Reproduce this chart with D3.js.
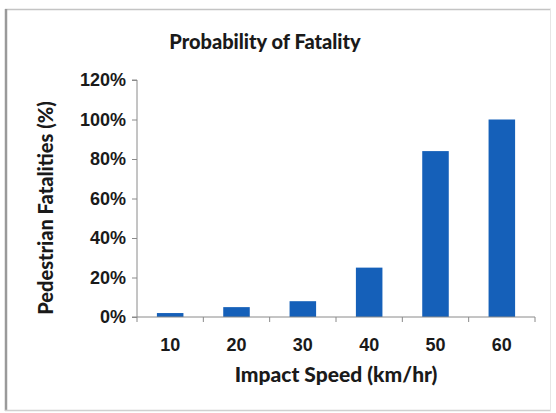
<!DOCTYPE html>
<html>
<head>
<meta charset="utf-8">
<script src="https://cdn.jsdelivr.net/npm/d3@7"></script>
<style>
  body { margin: 0; background: #fff; }
  svg { display: block; }
</style>
</head>
<body>
<svg width="556" height="413"></svg>
<script>
// data
var speeds = ["10", "20", "30", "40", "50", "60"];
var fatality = [2, 5, 8, 25, 84, 100];
var yTicks = [0, 20, 40, 60, 80, 100, 120];

var svg = d3.select("svg");
var margin = { top: 80, right: 21, bottom: 96, left: 137 };
var width = 556 - margin.left - margin.right;
var height = 413 - margin.top - margin.bottom;

// frame around the chart
svg.append("line").attr("x1", 5).attr("x2", 551).attr("y1", 9.5).attr("y2", 9.5)
    .style("stroke", "#c4c4c4").style("stroke-width", 1.5);
svg.append("line").attr("x1", 6).attr("x2", 6).attr("y1", 9).attr("y2", 411)
    .style("stroke", "#9a9a9a").style("stroke-width", 2.5);
svg.append("line").attr("x1", 5).attr("x2", 551).attr("y1", 410.5).attr("y2", 410.5)
    .style("stroke", "#d0d0d0").style("stroke-width", 1.5);
svg.append("line").attr("x1", 550.5).attr("x2", 550.5).attr("y1", 9).attr("y2", 411)
    .style("stroke", "#e6e6e6").style("stroke-width", 1);

var g = svg.append("g").attr("transform", "translate(" + margin.left + "," + margin.top + ")");

var x = d3.scaleBand().domain(speeds).range([0, width]).paddingInner(0.6).paddingOuter(0.3);
var xb = d3.scaleBand().domain(speeds).range([0, width]);
var y = d3.scaleLinear().domain([0, 120]).range([height, 0]);

// bars
g.selectAll(".bar")
    .data(fatality)
    .enter().append("rect")
    .attr("class", "bar")
    .attr("x", function(d, i) { return x(speeds[i]); })
    .attr("width", x.bandwidth())
    .attr("y", function(d) { return y(d); })
    .attr("height", function(d) { return height - y(d); })
    .style("fill", "#1560b9");

// y axis
var yAxis = g.append("g")
    .call(d3.axisLeft(y).tickValues(yTicks).tickSize(5).tickPadding(6)
        .tickFormat(function(d) { return d + "%"; }));
yAxis.select(".domain").attr("stroke", "#8a8a8a").attr("d", "M0," + height + "V0H-5");
yAxis.selectAll(".tick line").attr("stroke", "#8a8a8a");
yAxis.selectAll("text")
    .style("font-family", "'Liberation Sans', Arial, sans-serif")
    .style("font-weight", "bold")
    .style("font-size", "18px")
    .style("fill", "#1a1a1a");

// x axis, ticks between categories
var xAxis = g.append("g").attr("transform", "translate(0," + height + ")");
xAxis.append("line").attr("x1", -5).attr("x2", width).attr("y1", 0).attr("y2", 0)
    .style("stroke", "#8a8a8a");
var bounds = speeds.map(function(s) { return xb(s); }).concat([width]);
xAxis.selectAll(".xtick")
    .data(bounds)
    .enter().append("line")
    .attr("x1", function(d) { return d; })
    .attr("x2", function(d) { return d; })
    .attr("y1", 0)
    .attr("y2", 5)
    .style("stroke", "#8a8a8a");
xAxis.selectAll(".xlabel")
    .data(speeds)
    .enter().append("text")
    .attr("x", function(d) { return xb(d) + xb.bandwidth() / 2; })
    .attr("y", 34)
    .style("text-anchor", "middle")
    .style("font-family", "'Liberation Sans', Arial, sans-serif")
    .style("font-weight", "bold")
    .style("font-size", "18px")
    .style("fill", "#1a1a1a")
    .text(function(d) { return d; });

// titles
svg.append("text")
    .attr("x", 265).attr("y", 49)
    .style("text-anchor", "middle")
    .style("font-family", "Lato, 'Open Sans', sans-serif")
    .style("font-weight", 900)
    .style("font-size", "20px")
    .style("fill", "#1a1a1a")
    .text("Probability of Fatality");

svg.append("text")
    .attr("x", 336).attr("y", 382)
    .style("text-anchor", "middle")
    .style("font-family", "Lato, 'Open Sans', sans-serif")
    .style("font-weight", 900)
    .style("font-size", "21px")
    .style("fill", "#1a1a1a")
    .text("Impact Speed (km/hr)");

svg.append("text")
    .attr("transform", "translate(53,208) rotate(-90)")
    .style("text-anchor", "middle")
    .style("font-family", "Lato, 'Open Sans', sans-serif")
    .style("font-weight", 900)
    .style("font-size", "20px")
    .style("fill", "#1a1a1a")
    .text("Pedestrian Fatalities (%)");
</script>
</body>
</html>
